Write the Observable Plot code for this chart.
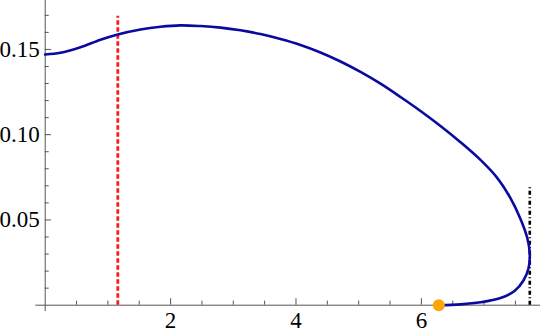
<!DOCTYPE html>
<html>
<head>
<meta charset="utf-8">
<script src="https://cdn.jsdelivr.net/npm/d3@7"></script>
<script src="https://cdn.jsdelivr.net/npm/@observablehq/plot@0.6"></script>
<style>
  html, body { margin: 0; padding: 0; background: #fff; }
  #chart svg { display: block; }
  #chart svg text { font-family: "Liberation Serif", "DejaVu Serif", serif !important; }
</style>
</head>
<body>
<div id="chart"></div>
<script>
// Curve (parametric, in drawing order)
const curveX = [0, 0.244, 0.563, 0.882, 1.158, 1.52, 1.839, 2.158, 2.477, 2.796, 3.115, 3.434, 3.753, 4.072, 4.391, 4.71, 5.029, 5.348, 5.667, 5.986, 6.305, 6.624, 6.943, 7.209, 7.421, 7.581, 7.687, 7.729, 7.708, 7.628, 7.485, 7.262, 6.943, 6.624, 6.278];
const curveY = [0.147, 0.148, 0.1513, 0.1557, 0.1588, 0.1617, 0.1633, 0.1641, 0.1637, 0.1628, 0.1612, 0.159, 0.1561, 0.1526, 0.1482, 0.1429, 0.1368, 0.1299, 0.1221, 0.1139, 0.1051, 0.0956, 0.0852, 0.0747, 0.0628, 0.0506, 0.0397, 0.0303, 0.0215, 0.0145, 0.0083, 0.0042, 0.0017, 0.0005, 0];
// Reference lines and marker
const redLineX = 1.158, redLineTop = 0.1695;
const blackLineX = 7.729, blackLineTop = 0.0698;
const dotX = 6.278, dotY = 0;
// Ticks
const xTickLabels = [2, 4, 6];
const yTickLabels = [0.05, 0.10, 0.15];
const xMinorTicks = d3.range(0.5, 7.9, 0.5).filter(v => !xTickLabels.includes(v));
const yMinorTicks = d3.range(1, 18).map(i => i / 100).filter(v => !yTickLabels.some(t => Math.abs(t - v) < 1e-9));

const curve = curveX.map((x, i) => ({x, y: curveY[i]}));
const axisColor = "#555";
const font = "Liberation Serif";

const chart = Plot.plot({
  width: 540,
  height: 333,
  marginLeft: 35.3,
  marginRight: 0,
  marginTop: 0,
  marginBottom: 22,
  x: {domain: [-0.15, 7.9], axis: null},
  y: {domain: [-0.0037, 0.1787], axis: null},
  style: {background: "#fff", fontFamily: font},
  marks: [
    // axes lines
    Plot.ruleY([0], {x1: -0.15, x2: 7.9, stroke: axisColor, strokeWidth: 1}),
    Plot.ruleX([0], {y1: -0.0037, y2: 0.1787, stroke: axisColor, strokeWidth: 1}),
    // x ticks (inside, upward)
    Plot.ruleX(xTickLabels, {x: d => d, y1: 0, y2: 0.0038, stroke: axisColor, strokeWidth: 1}),
    Plot.ruleX(xMinorTicks, {x: d => d, y1: 0, y2: 0.0024, stroke: axisColor, strokeWidth: 1}),
    // y ticks (inside, rightward)
    Plot.ruleY(yTickLabels, {y: d => d, x1: 0, x2: 0.1, stroke: axisColor, strokeWidth: 1}),
    Plot.ruleY(yMinorTicks, {y: d => d, x1: 0, x2: 0.064, stroke: axisColor, strokeWidth: 1}),
    // tick labels
    Plot.text(xTickLabels, {x: d => d, y: 0, text: d => String(d), dy: 15.5, fontSize: 23, fontFamily: font, fill: "#000", textAnchor: "middle", lineAnchor: "middle"}),
    Plot.text(yTickLabels, {x: 0, y: d => d, text: d => d.toFixed(2), dx: -5.5, fontSize: 23, fontFamily: font, fill: "#000", textAnchor: "end", lineAnchor: "middle"}),
    // reference lines
    Plot.ruleX([redLineX], {y1: 0, y2: redLineTop, stroke: "#ff1a1a", strokeWidth: 2.8, strokeDasharray: "4.5,2.5"}),
    Plot.ruleX([blackLineX], {y1: 0, y2: blackLineTop, stroke: "#000", strokeWidth: 2.6, strokeDasharray: "4,2.5,1,2.5"}),
    // curve
    Plot.line(curve, {x: "x", y: "y", curve: "catmull-rom", stroke: "#0a0aa0", strokeWidth: 2.6}),
    // point
    Plot.dot([{x: dotX, y: dotY}], {x: "x", y: "y", r: 6, fill: "#ffa500", stroke: "none"})
  ]
});
document.getElementById("chart").appendChild(chart);
</script>
</body>
</html>
